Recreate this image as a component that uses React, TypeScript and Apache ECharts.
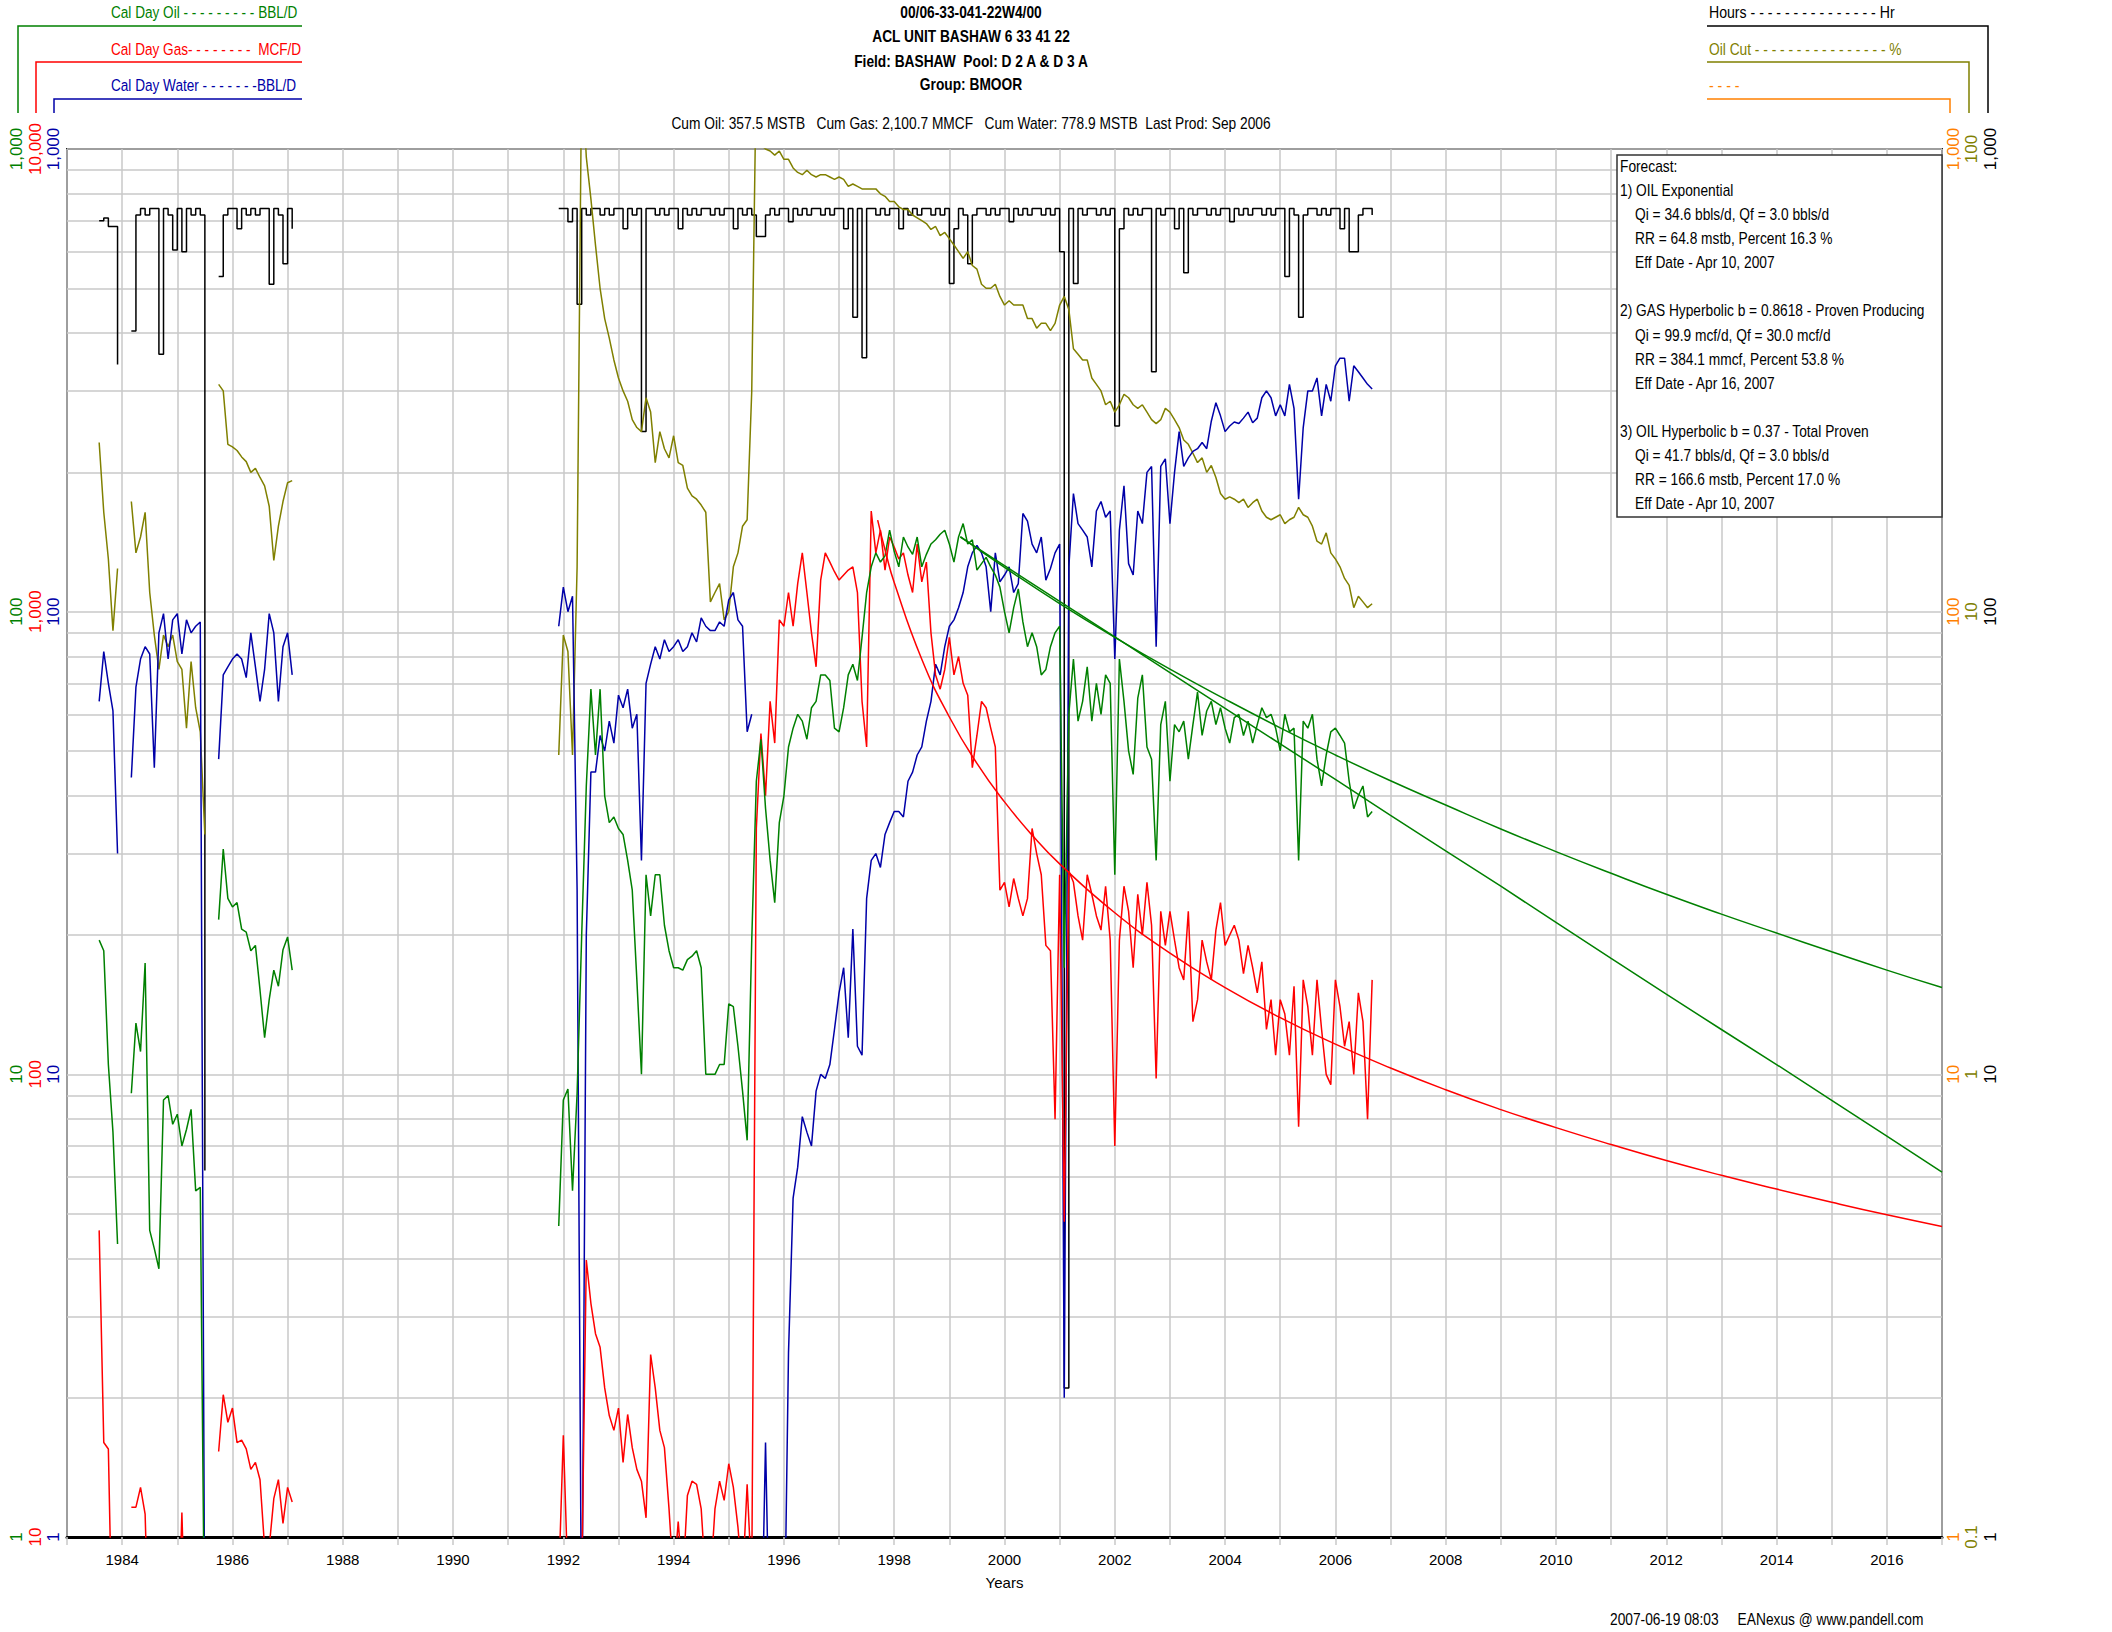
import React, { useEffect, useRef } from "react";
import * as echarts from "echarts";

const SANS = "'Liberation Sans', Arial, sans-serif";

const GREEN = "#008000";
const RED = "#ff0000";
const BLUE = "#0000a8";
const OLIVE = "#808000";
const ORANGE = "#ff8000";
const BLACK = "#000000";
const GRIDC = "#c8c8c8";

// segment start [year, month]
const SEGMENT_STARTS: [number, number][] = [[1983, 8], [1984, 3], [1985, 10], [1991, 12]];

// Cal Day Oil (BBL/D)
const oil1983 = [19.5, 18.5, 10.5, 7.5, 4.3];
const oil1984 = [9.1, 12.9, 11.2, 17.4, 4.6, 4.2, 3.8, 8.8, 9.0, 7.8, 8.2, 7.0, 7.6, 8.4, 5.6, 5.7, 0.5];
const oil1985 = [21.6, 30.7, 24, 23, 23.5, 20.6, 20.3, 18.5, 19, 15.2, 12, 14.5, 16.8, 15.5, 18.6, 19.8, 16.8];
const oil1991 = [
  4.7, 8.8, 9.3, 5.6, 9.1, 20, 42, 68, 49, 68, 40, 35,
  36, 34, 33, 29, 25, 16, 10, 27, 22, 27, 27, 21,
  18.5, 17, 17, 16.8, 17.7, 18, 18.5, 17, 10, 10, 10, 10.5,
  10.5, 14.2, 14, 11.5, 9.2, 7.2, 19.5, 43, 53, 37.6, 29, 23.5,
  35, 40, 51, 56, 60, 58, 53, 62, 64, 73, 73, 71,
  56, 55, 62, 73, 77, 71, 88, 110, 125, 134, 128, 132,
  150, 135, 125, 145, 138, 133, 145, 125, 133, 140, 143, 147,
  150, 140, 128, 145, 155, 140, 143, 123, 127, 131, 125, 120,
  113, 100, 90, 102, 112, 95, 84, 90, 84, 73, 75, 84,
  90, 93, 17, 60, 79, 58, 64, 76, 58, 70, 60, 73,
  70, 27, 79, 64, 50, 44.5, 65, 73, 51, 48, 29, 57,
  64, 43, 57, 55, 58, 48, 57, 67, 54, 61, 64, 57,
  62, 56, 52, 59, 60, 54, 58, 52, 57, 62, 59, 60,
  56, 50, 60, 55, 56, 29, 58, 56, 60, 48, 42, 49,
  55, 56, 54, 52, 43, 37.5, 40, 42, 36, 37,
];

// Cal Day Gas (MCF/D)
const gas1983 = [46, 16, 15.5, 5, 5];
const gas1984 = [11.6, 11.6, 12.8, 11.2, 5, 5, 5, 5, 5, 5, 5, 11.3, 5, 5, 5, 5, 5];
const gas1985 = [15.3, 20.3, 17.7, 19, 16, 16.2, 15.5, 14, 14.5, 13.3, 9.5, 9.5, 12.1, 13.3, 10.7, 12.8, 11.9];
const gas1991 = [
  8, 16.6, 8, 8, 8, 8, 39.7, 32, 27.5, 25.7, 21, 18.3,
  17, 19, 14.5, 18.4, 15.6, 14, 13.2, 11, 24.8, 21, 17, 15.6,
  11.5, 8, 10.8, 8, 12.3, 13.2, 13, 11.5, 8, 8, 11.5, 13.2,
  12, 14.4, 12.8, 10.5, 8, 13, 8, 340, 545, 400, 640, 520,
  960, 930, 1100, 930, 1150, 1340, 1100, 900, 760, 1170, 1340, 1280,
  1220, 1170, 1200, 1230, 1250, 1100, 640, 510, 1650, 1340, 1500, 1230,
  1450, 1380, 1300, 1340, 1200, 1100, 1400, 1160, 1280, 900, 730, 680,
  750, 880, 730, 800, 700, 660, 460, 540, 640, 620, 560, 510,
  250, 260, 230, 265, 240, 220, 240, 340, 300, 270, 190, 185,
  80, 270, 48, 275, 260, 220, 195, 270, 245, 220, 205, 255,
  195, 70, 195, 255, 225, 170, 245, 200, 260, 210, 98, 225,
  190, 225, 195, 170, 160, 225, 130, 145, 195, 175, 160, 205,
  235, 190, 200, 210, 195, 165, 190, 170, 150, 175, 125, 145,
  110, 145, 135, 110, 155, 77, 160, 140, 110, 160, 125, 100,
  95, 160, 140, 115, 130, 100, 150, 130, 80, 160,
];

// Cal Day Water (BBL/D)
const water1983 = [64, 82, 70, 61, 30];
const water1984 = [43.8, 68.7, 79, 84, 81, 46, 90, 99, 79, 96, 99, 81, 96, 90, 93, 95, 0.5];
const water1985 = [48, 73, 76, 79, 81, 79, 72, 90, 76, 64, 75, 99, 90, 64, 84, 90, 73];
const water1991 = [
  93, 113, 100, 108, 25, 0.5, 20, 45, 45, 54, 50, 58,
  52, 66, 62, 68, 56, 60, 29, 70, 77, 84, 79, 87,
  82, 84, 87, 82, 84, 90, 86, 97, 93, 91, 91, 95,
  93, 106, 110, 96, 93, 55, 60, null, 0.5, 1.6, 0.5, 0.5,
  0.5, 0.5, 2.5, 5.4, 6.3, 8.1, 7.5, 7, 9.2, 10, 9.8, 10.5,
  12.5, 15, 17, 12, 20.6, 11.5, 11, 24, 29, 30, 28, 33,
  35, 37, 37, 36, 43, 45, 49, 51, 58, 64, 77, 73,
  84, 93, 96, 102, 110, 125, 134, 139, 134, 125, 100, 134,
  116, 120, 125, 110, 115, 163, 157, 140, 134, 145, 117, 124,
  134, 140, 2, 125, 180, 155, 150, 145, 125, 165, 173, 160,
  165, 79, 150, 187, 127, 120, 165, 155, 200, 206, 84, 206,
  214, 155, 200, 245, 206, 215, 222, 225, 232, 225, 258, 283,
  265, 245, 252, 257, 255, 262, 270, 256, 262, 290, 300, 290,
  265, 280, 265, 310, 275, 175, 250, 300, 300, 320, 265, 310,
  285, 340, 353, 353, 285, 340, 330, 320, 310, 303,
];

// Oil Cut (%)
const cut1983 = [23.2, 16.4, 13, 9.1, 12.4];
const cut1984 = [17.3, 13.4, 14.5, 16.4, 11, 8.9, 7.5, 8.9, 8.4, 8.9, 7.8, 7.5, 5.6, 7.8, 6.2, 5.5, 3.3];
const cut1985 = [31, 30, 23, 22.7, 22.3, 21.6, 21.1, 20, 20.4, 19.5, 18.7, 16.9, 12.9, 15.3, 17.3, 19, 19.2];
const cut1991 = [
  4.9, 8.9, 8.2, 4.9, 12.5, 150, 96, 78, 62, 50, 43, 39,
  35, 32, 30, 28.5, 26, 25, 24.5, 29, 27, 21, 24.5, 22.5,
  21.5, 24, 21, 20.7, 18.5, 17.8, 17.5, 17, 16.4, 10.5, 11, 11.5,
  9.6, 10, 12.5, 13.4, 15.3, 15.8, 30, 150, 102, 100, 99, 97,
  99, 95, 95, 91, 89, 88, 90, 88, 87, 88, 88, 87,
  86, 87, 86, 83, 84, 83, 82, 82, 82, 82, 80, 79,
  77, 77, 75, 74, 74, 72, 71, 70, 69, 67, 68, 65,
  66, 64, 62, 60, 58, 60, 56, 55, 51, 50, 50, 51,
  48, 46, 47, 46, 46, 46, 43, 43, 41, 42, 42, 40.5,
  42, 46, 48, 45, 37, 36, 35, 35, 32, 31, 30, 28,
  28.5, 27, 28, 29.5, 29, 28, 27.5, 28, 27, 26, 25.5, 26,
  27.5, 27, 26, 25, 23.5, 23, 22, 21, 21.5, 20, 20.7, 19.5,
  18, 17.5, 17.7, 17.5, 17.2, 17.5, 16.8, 17.2, 17.5, 16.5, 16, 15.8,
  16, 16.2, 15.5, 15.8, 16, 16.8, 16.2, 16, 15.3, 14.2, 14, 14.8,
  13.4, 13, 12.5, 11.8, 11.4, 10.2, 10.8, 10.5, 10.2, 10.4,
];

// Hours (Hr)
const hours1983 = [700, 709, 680, 680, 342];
const hours1984 = [404, 720, 744, 720, 744, 744, 360, 744, 720, 605, 744, 600, 744, 720, 744, 720, 6.2];
const hours1985 = [530, 720, 744, 744, 672, 744, 720, 744, 720, 744, 744, 510, 744, 720, 565, 744, 672];
const hours1991 = [
  744,
  744, 696, 744, 462, 744, 720, 744, 744, 720, 744, 720, 744,
  744, 672, 744, 720, 744, 245, 744, 744, 720, 744, 720, 744,
  744, 672, 744, 720, 744, 720, 744, 744, 720, 744, 720, 744,
  744, 672, 744, 720, 744, 720, 647, 647, 720, 744, 720, 744,
  744, 696, 744, 720, 744, 720, 744, 744, 720, 744, 720, 744,
  744, 672, 744, 433, 744, 354, 744, 744, 720, 744, 720, 744,
  744, 672, 744, 720, 744, 720, 744, 744, 720, 744, 720, 744,
  512, 672, 744, 720, 565, 720, 744, 744, 720, 744, 720, 744,
  744, 696, 744, 720, 744, 720, 744, 744, 720, 744, 720, 744,
  600, 2.1, 744, 512, 744, 720, 744, 744, 720, 744, 720, 744,
  252, 672, 744, 720, 744, 720, 744, 744, 330, 744, 720, 744,
  744, 672, 744, 540, 744, 720, 744, 744, 720, 744, 720, 744,
  744, 696, 744, 720, 744, 720, 744, 744, 720, 744, 720, 744,
  744, 530, 744, 720, 433, 720, 744, 744, 720, 744, 720, 744,
  744, 672, 744, 600, 600, 720, 744, 744, 720,
];

// Forecasts
const forecastOilYears = [1999.2, 2000, 2001, 2002, 2003, 2004, 2005, 2006, 2007, 2008, 2009, 2010, 2011, 2012, 2013, 2014, 2015, 2016, 2017];
const oilExpForecast = [145, 125.7, 105.3, 88.2, 73.8, 61.8, 51.8, 43.4, 36.3, 30.4, 25.5, 21.3, 17.8, 14.9, 12.5, 10.5, 8.78, 7.35, 6.15];
const oilHypForecast = [145.2, 124.6, 104.1, 88.0, 75.1, 64.7, 56.1, 49.0, 43.1, 38.2, 33.9, 30.3, 27.2, 24.5, 22.2, 20.2, 18.4, 16.8, 15.4];
const forecastGasYears = [1997.7, 1997.85, 1998, 1998.5, 1999, 1999.5, 2000, 2000.5, 2001, 2002, 2003, 2004, 2005, 2006, 2007, 2008, 2009, 2010, 2011, 2012, 2013, 2014, 2015, 2016, 2017];
const gasHypForecast = [1577, 1337, 1156, 789, 592, 470, 388, 329, 285, 223.5, 182.8, 154, 132.6, 116.2, 103.2, 92.6, 83.9, 76.7, 70.5, 65.1, 60.5, 56.5, 52.9, 49.7, 46.9];

const minorGridValues = [2, 3, 4, 5, 6, 7, 8, 9, 20, 30, 40, 50, 60, 70, 80, 90, 200, 300, 400, 500, 600, 700, 800, 900];

const forecastLines = [
  { text: "Forecast:", indent: false },
  { text: "1) OIL Exponential", indent: false },
  { text: "Qi = 34.6 bbls/d, Qf = 3.0 bbls/d", indent: true },
  { text: "RR = 64.8 mstb, Percent 16.3 %", indent: true },
  { text: "Eff Date - Apr 10, 2007", indent: true },
  { text: "", indent: false },
  { text: "2) GAS Hyperbolic b = 0.8618 - Proven Producing", indent: false },
  { text: "Qi = 99.9 mcf/d, Qf = 30.0 mcf/d", indent: true },
  { text: "RR = 384.1 mmcf, Percent 53.8 %", indent: true },
  { text: "Eff Date - Apr 16, 2007", indent: true },
  { text: "", indent: false },
  { text: "3) OIL Hyperbolic b = 0.37 - Total Proven", indent: false },
  { text: "Qi = 41.7 bbls/d, Qf = 3.0 bbls/d", indent: true },
  { text: "RR = 166.6 mstb, Percent 17.0 %", indent: true },
  { text: "Eff Date - Apr 10, 2007", indent: true },
];

function buildSeries(segments: (number | null)[][]): (number | null)[][] {
  const out: (number | null)[][] = [];
  segments.forEach((vals, k) => {
    const [y0, m0] = SEGMENT_STARTS[k];
    if (k > 0) out.push([y0 + (m0 - 1) / 12 - 0.04, null]);
    vals.forEach((v, i) => out.push([y0 + (m0 - 1 + i) / 12, v]));
  });
  return out;
}

function buildSegment(k: number, vals: number[]): number[][] {
  const [y0, m0] = SEGMENT_STARTS[k];
  return vals.map((v, i) => [y0 + (m0 - 1 + i) / 12, v]);
}

function pairs(xs: number[], ys: number[]) {
  return xs.map((x, i) => [x, ys[i]]);
}

const fmtLog = (v: number) => {
  const r = Math.round(Number(v) * 1000) / 1000;
  return r.toLocaleString("en-US");
};

function yAxis(min: number, max: number, position: string, color: string, margin: number, split = false) {
  return {
    type: "log",
    logBase: 10,
    min,
    max,
    position,
    offset: 0,
    axisLine: { show: false },
    axisTick: { show: false },
    splitLine: { show: split, lineStyle: { color: GRIDC, width: 1.5 } },
    axisLabel: {
      rotate: 90,
      color,
      margin,
      fontSize: 17,
      fontFamily: SANS,
      formatter: fmtLog,
      showMinLabel: true,
      showMaxLabel: true,
    },
  };
}

function txt(text: string, x: number, y: number, color: string, opts: any = {}) {
  return {
    type: "text",
    x,
    y,
    scaleX: opts.scale || 0.86,
    scaleY: 1,
    z: 200,
    style: {
      text,
      fill: color,
      font: `${opts.bold ? "bold " : ""}${opts.size || 16}px ${SANS}`,
      textAlign: opts.align || "left",
      align: opts.align || "left",
      textVerticalAlign: "middle",
      verticalAlign: "middle",
    },
  };
}

function bracket(points: number[][], color: string) {
  return {
    type: "polyline",
    z: 200,
    shape: { points },
    style: { stroke: color, lineWidth: 1.5, fill: "none" },
  };
}

export default function App() {
  const ref = useRef<HTMLDivElement>(null);
  useEffect(() => {
    if (!ref.current) return;
    const chart = echarts.init(ref.current, null, { renderer: "svg" });

    const lineSeries = (name: string, data: any, yAxisIndex: number, color: string, extra: any = {}) => ({
      name,
      type: "line",
      data,
      yAxisIndex,
      showSymbol: false,
      symbol: "none",
      connectNulls: false,
      clip: true,
      z: 10,
      lineStyle: { color, width: 1.5 },
      itemStyle: { color },
      ...extra,
    });

    const graphic: any[] = [
      // title
      txt("00/06-33-041-22W4/00", 971, 12, BLACK, { bold: true, align: "center" }),
      txt("ACL UNIT BASHAW 6 33 41 22", 971, 36, BLACK, { bold: true, align: "center" }),
      txt("Field: BASHAW  Pool: D 2 A & D 3 A", 971, 61, BLACK, { bold: true, align: "center" }),
      txt("Group: BMOOR", 971, 84, BLACK, { bold: true, align: "center" }),
      txt("Cum Oil: 357.5 MSTB   Cum Gas: 2,100.7 MMCF   Cum Water: 778.9 MSTB  Last Prod: Sep 2006", 971, 123, BLACK, { align: "center" }),
      // left legend
      txt("Cal Day Oil - - - - - - - - - BBL/D", 111, 12, GREEN, { size: 17, scale: 0.8 }),
      txt("Cal Day Gas- - - - - - - -  MCF/D", 111, 49, RED, { size: 17, scale: 0.8 }),
      txt("Cal Day Water - - - - - - -BBL/D", 111, 85, BLUE, { size: 17, scale: 0.8 }),
      bracket([[18, 113], [18, 26], [302, 26]], GREEN),
      bracket([[36, 113], [36, 62], [302, 62]], RED),
      bracket([[54, 113], [54, 99], [302, 99]], BLUE),
      // right legend
      txt("Hours - - - - - - - - - - - - - - - Hr", 1709, 12, BLACK, { size: 17, scale: 0.83 }),
      txt("Oil Cut - - - - - - - - - - - - - - - - %", 1709, 49, OLIVE, { size: 17, scale: 0.81 }),
      txt("- - - -", 1709, 85, ORANGE, { size: 17, scale: 0.83 }),
      bracket([[1707, 26], [1988, 26], [1988, 113]], BLACK),
      bracket([[1707, 62], [1969, 62], [1969, 113]], OLIVE),
      bracket([[1707, 99], [1950, 99], [1950, 113]], ORANGE),
      // forecast box
      {
        type: "rect",
        z: 150,
        shape: { x: 1617, y: 155, width: 325, height: 362 },
        style: { fill: "#ffffff", stroke: "#333333", lineWidth: 1.5 },
      },
      // footer
      txt("2007-06-19 08:03     EANexus @ www.pandell.com", 1610, 1619, BLACK),
    ];
    forecastLines.forEach((l, k) => {
      if (l.text) graphic.push(txt(l.text, l.indent ? 1635 : 1620, 166 + k * 24.1, BLACK));
    });

    const hoursSegments = [hours1983, hours1984, hours1985, hours1991].map((vals, k) =>
      lineSeries("Hours", buildSegment(k, vals), 5, BLACK, { step: "end" })
    );

    const option: any = {
      animation: false,
      backgroundColor: "#ffffff",
      textStyle: { fontFamily: SANS },
      grid: {
        left: 67,
        right: 170,
        top: 149,
        bottom: 95,
        show: true,
        borderColor: "#222222",
        borderWidth: 2,
        backgroundColor: "transparent",
      },
      xAxis: {
        type: "value",
        min: 1983,
        max: 2017,
        interval: 1,
        name: "Years",
        nameLocation: "middle",
        nameGap: 38,
        nameTextStyle: { fontSize: 15, fontFamily: SANS, color: BLACK },
        axisLine: { show: true, lineStyle: { color: BLACK, width: 3 } },
        axisTick: { show: true, length: 8, lineStyle: { color: GRIDC, width: 1.5 } },
        axisLabel: {
          fontSize: 15,
          fontFamily: SANS,
          color: BLACK,
          margin: 15,
          formatter: (v: number) => (Math.round(v) % 2 === 0 ? String(Math.round(v)) : ""),
        },
        splitLine: { show: true, lineStyle: { color: GRIDC, width: 1.5 } },
      },
      yAxis: [
        yAxis(1, 1000, "left", GREEN, 42, true),
        yAxis(10, 10000, "left", RED, 23),
        yAxis(1, 1000, "left", BLUE, 5),
        yAxis(1, 1000, "right", ORANGE, 3),
        yAxis(0.1, 100, "right", OLIVE, 21),
        yAxis(1, 1000, "right", BLACK, 40),
      ],
      graphic,
      series: [
        {
          name: "grid",
          type: "line",
          data: [[1983, 1]],
          yAxisIndex: 0,
          symbol: "none",
          lineStyle: { opacity: 0 },
          silent: true,
          z: 1,
          markLine: {
            silent: true,
            symbol: ["none", "none"],
            label: { show: false },
            lineStyle: { color: GRIDC, width: 1.5, type: "solid" },
            data: minorGridValues.map((v) => ({ yAxis: v })),
            z: 1,
          },
        },
        ...hoursSegments,
        lineSeries("Oil Cut", buildSeries([cut1983, cut1984, cut1985, cut1991]), 4, OLIVE),
        lineSeries("Cal Day Water", buildSeries([water1983, water1984, water1985, water1991]), 2, BLUE),
        lineSeries("Cal Day Gas", buildSeries([gas1983, gas1984, gas1985, gas1991]), 1, RED),
        lineSeries("Cal Day Oil", buildSeries([oil1983, oil1984, oil1985, oil1991]), 0, GREEN),
        lineSeries("OIL Exponential", pairs(forecastOilYears, oilExpForecast), 0, GREEN),
        lineSeries("OIL Hyperbolic", pairs(forecastOilYears, oilHypForecast), 0, GREEN, { smooth: 0.5 }),
        lineSeries("GAS Hyperbolic", pairs(forecastGasYears, gasHypForecast), 1, RED, { smooth: 0.5 }),
      ],
    };
    chart.setOption(option);
    return () => chart.dispose();
  }, []);
  return <div ref={ref} style={{ position: "fixed", left: 0, top: 0, width: 2112, height: 1632, background: "#fff" }} />;
}
